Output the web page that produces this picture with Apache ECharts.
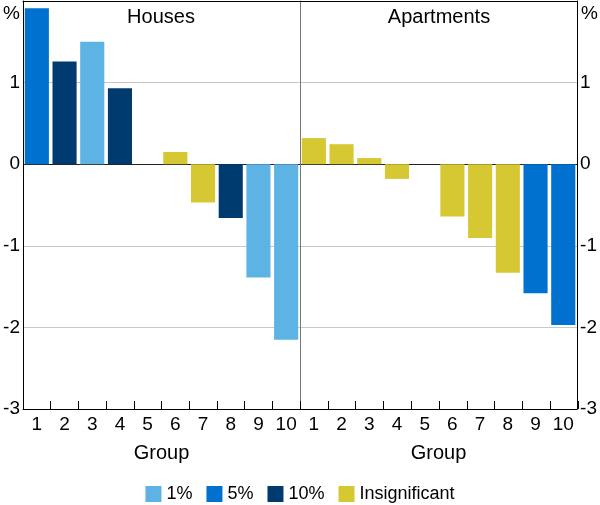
<!DOCTYPE html>
<html>
<head>
<meta charset="utf-8">
<script src="https://cdn.jsdelivr.net/npm/echarts@6/dist/echarts.min.js"></script>
<style>html,body{margin:0;padding:0;background:#fff}#c{width:600px;height:505px}</style>
</head>
<body>
<div id="c"></div>
<script>
const groups = ['1','2','3','4','5','6','7','8','9','10'];
const housesValues = [1.91, 1.26, 1.50, 0.93, 0, 0.15, -0.47, -0.66, -1.39, -2.15];
const housesSignif = ['5%','10%','1%','10%','Insignificant','Insignificant','Insignificant','10%','1%','1%'];
const apartmentsValues = [0.32, 0.245, 0.075, -0.18, 0, -0.64, -0.905, -1.33, -1.58, -1.97];
const apartmentsSignif = ['Insignificant','Insignificant','Insignificant','Insignificant','Insignificant','Insignificant','Insignificant','Insignificant','5%','5%'];
const levels = ['1%','5%','10%','Insignificant'];
const levelColors = ['#5DB3E4','#0071CE','#003B70','#D5C832'];
const yTicks = [-3,-2,-1,0,1,2];

const FONT = 'Liberation Sans, Arial, sans-serif';
const chart = echarts.init(document.getElementById('c'), null, {renderer:'canvas'});

function mkSeries(values, signif, idx, stack) {
  return levels.map((lv, k) => ({
    type: 'bar', name: lv, xAxisIndex: idx, yAxisIndex: idx, stack: stack,
    barCategoryGap: '13%',
    itemStyle: {color: levelColors[k]},
    data: values.map((v, i) => signif[i] === lv ? v : '-'),
    animation: false
  }));
}

const splitColors = yTicks.map(v => v === 0 ? '#222' : '#c8c8c8');
function yAxisBase(grid, pos, showLabels) {
  return {
    type: 'value', gridIndex: grid, position: pos, min: -3, max: 2, interval: 1,
    axisLine: {show: true, lineStyle: {color: '#000', width: 1}},
    axisTick: {show: false},
    axisLabel: {show: showLabels, margin: 3, fontSize: 19, fontFamily: FONT, color: '#000',
      formatter: v => v === 2 ? '' : String(v)},
    splitLine: {show: showLabels, lineStyle: {color: splitColors, width: 1}}
  };
}
function xAxisBase(grid, pos, showLabels) {
  return {
    type: 'category', gridIndex: grid, position: pos, data: groups,
    axisLine: {show: true, onZero: false, lineStyle: {color: '#000', width: 1}},
    axisTick: {show: false},
    axisLabel: {show: showLabels, margin: 6, fontSize: 19, fontFamily: FONT, color: '#000', interval: 0},
    name: showLabels ? 'Group' : '', nameLocation: 'middle', nameGap: 34,
    nameTextStyle: {fontSize: 20, fontFamily: FONT, color: '#000'}
  };
}
// tiny strip grids whose split lines (at the category boundaries) act as the inside tick marks
function xTickAxis(grid) {
  return {
    type: 'value', gridIndex: grid, min: 0, max: groups.length, interval: 1, z: 10,
    axisLine: {show: false}, axisTick: {show: false}, axisLabel: {show: false},
    splitLine: {show: true, lineStyle: {color: '#000', width: 1}}
  };
}
function yTickAxis(grid) {
  return {type: 'value', gridIndex: grid, min: 0, max: 1,
    axisLine: {show: false}, axisTick: {show: false}, axisLabel: {show: false}, splitLine: {show: false}};
}

const y0 = yAxisBase(0, 'left', true);
const y1 = yAxisBase(1, 'right', true);
const y2 = yAxisBase(0, 'right', false);
y2.axisLine.lineStyle.color = '#777';

chart.setOption({
  animation: false,
  textStyle: {fontFamily: FONT},
  title: [
    {text: 'Houses', left: 161, top: 7, textAlign: 'center', padding: 0,
     textStyle: {fontSize: 20, fontWeight: 'normal', color: '#000', fontFamily: FONT}},
    {text: 'Apartments', left: 439, top: 7, textAlign: 'center', padding: 0,
     textStyle: {fontSize: 20, fontWeight: 'normal', color: '#000', fontFamily: FONT}}
  ],
  legend: {
    data: levels, left: 'center', top: 485, icon: 'rect', itemWidth: 16, itemHeight: 16,
    itemGap: 14, padding: 0,
    textStyle: {fontSize: 18, fontFamily: FONT, color: '#000'}
  },
  graphic: [
    {type: 'text', left: 3, top: 4, style: {text: '%', fontSize: 19, fontFamily: FONT, fill: '#000'}},
    {type: 'text', right: 2, top: 4, style: {text: '%', fontSize: 19, fontFamily: FONT, fill: '#000'}}
  ],
  grid: [
    {left: 23, top: 1, width: 277, height: 408},
    {left: 300, top: 1, width: 278, height: 408},
    {left: 23, top: 401, width: 277, height: 8, z: 10},
    {left: 300, top: 401, width: 278, height: 8, z: 10}
  ],
  xAxis: [xAxisBase(0, 'bottom', true), xAxisBase(1, 'bottom', true),
          xTickAxis(2), xTickAxis(3),
          xAxisBase(0, 'top', false), xAxisBase(1, 'top', false)],
  yAxis: [y0, y1, y2, yTickAxis(2), yTickAxis(3)],
  series: [].concat(mkSeries(housesValues, housesSignif, 0, 'h'), mkSeries(apartmentsValues, apartmentsSignif, 1, 'a'))
});
</script>
</body>
</html>
